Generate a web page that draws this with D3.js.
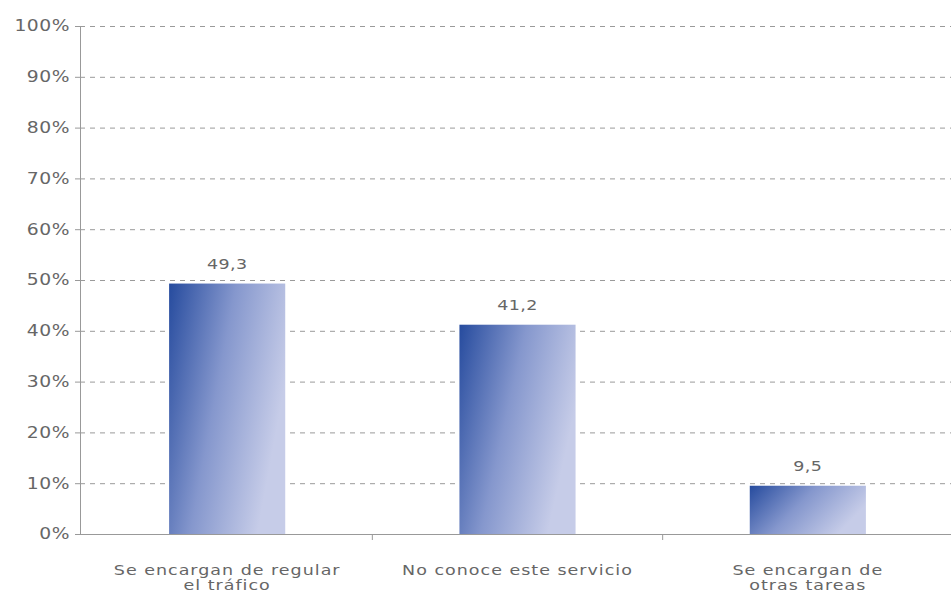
<!DOCTYPE html>
<html>
<head>
<meta charset="utf-8">
<script src="https://cdn.jsdelivr.net/npm/d3@7"></script>
<style>
  html, body { margin: 0; padding: 0; background: #fff; }
  svg { display: block; }
  text { font-family: "DejaVu Sans", Verdana, sans-serif; fill: #666; }
</style>
</head>
<body>
<svg id="chart" width="951" height="595"></svg>
<script>
// Survey answers and their shares (%)
const categories = [
  ["Se encargan de regular", "el tráfico"],
  ["No conoce este servicio"],
  ["Se encargan de", "otras tareas"]
];
const values = [49.3, 41.2, 9.5];
const valueLabels = ["49,3", "41,2", "9,5"];
const yTicks = [0, 10, 20, 30, 40, 50, 60, 70, 80, 90, 100];

const W = 951;
const axisX = 80, plotTop = 26, plotBottom = 534;
const stretch = 1.25; // horizontal stretch for the extended lettering

const svg = d3.select("#chart");

const x = d3.scaleBand()
  .domain(d3.range(categories.length))
  .range([82, 953])
  .paddingInner(0.6)
  .paddingOuter(0.3);

const y = d3.scaleLinear().domain([0, 100]).range([plotBottom, plotTop]);

// Gradient for the bars: dark blue at the top-left, pale lavender to the right
const defs = svg.append("defs");
const grad = defs.append("linearGradient")
  .attr("id", "barGrad")
  .attr("x1", "0%").attr("y1", "0%")
  .attr("x2", "100%").attr("y2", "40%");
grad.append("stop").attr("offset", "0%").attr("stop-color", "#264b9e");
grad.append("stop").attr("offset", "50%").attr("stop-color", "#8597cd");
grad.append("stop").attr("offset", "100%").attr("stop-color", "#c6cce8");

// Dashed horizontal gridlines
svg.append("g")
  .selectAll("line")
  .data(yTicks.filter(d => d > 0))
  .join("line")
  .attr("x1", axisX).attr("x2", W)
  .attr("y1", d => y(d) + 0.5).attr("y2", d => y(d) + 0.5)
  .attr("stroke", "#9a9a9a")
  .attr("stroke-width", 1)
  .attr("stroke-dasharray", "5,5");

// Y axis
const yAxis = svg.append("g")
  .attr("transform", `translate(${axisX},0)`)
  .call(d3.axisLeft(y).tickValues(yTicks).tickFormat(d => d + "%").tickSize(5).tickPadding(6));
yAxis.select(".domain").attr("stroke", "#999");
yAxis.selectAll(".tick line").attr("stroke", "#999");
yAxis.selectAll(".tick text")
  .attr("x", -10 / stretch)
  .attr("transform", `scale(${stretch},1)`)
  .attr("font-size", 15)
  .attr("letter-spacing", 0.4)
  .attr("fill", "#666")
  .style("font-family", "\"DejaVu Sans\", Verdana, sans-serif");

// Bars
svg.append("g")
  .selectAll("rect")
  .data(values)
  .join("rect")
  .attr("x", (d, i) => x(i))
  .attr("width", x.bandwidth())
  .attr("y", d => y(d))
  .attr("height", d => y(0) - y(d))
  .attr("fill", "url(#barGrad)");

// X axis line with separators between categories
svg.append("line")
  .attr("x1", axisX).attr("x2", W)
  .attr("y1", plotBottom + 0.5).attr("y2", plotBottom + 0.5)
  .attr("stroke", "#999");
const step = x.step();
svg.append("g")
  .selectAll("line")
  .data(d3.range(1, categories.length))
  .join("line")
  .attr("x1", i => x(i) - step * x.paddingInner() / 2)
  .attr("x2", i => x(i) - step * x.paddingInner() / 2)
  .attr("y1", plotBottom).attr("y2", plotBottom + 6)
  .attr("stroke", "#999");

// Value labels
svg.append("g")
  .selectAll("text")
  .data(values)
  .join("text")
  .attr("transform", (d, i) => `translate(${x(i) + x.bandwidth() / 2},${y(d) - 15}) scale(${stretch},1)`)
  .attr("text-anchor", "middle")
  .attr("font-size", 14)
  .attr("letter-spacing", 0.3)
  .text((d, i) => valueLabels[i]);

// Category labels
const cat = svg.append("g")
  .selectAll("text")
  .data(categories)
  .join("text")
  .attr("transform", (d, i) => `translate(${x(i) + x.bandwidth() / 2},575) scale(${stretch},1)`)
  .attr("text-anchor", "middle")
  .attr("font-size", 14)
  .attr("letter-spacing", 0.8);
cat.selectAll("tspan")
  .data(d => d)
  .join("tspan")
  .attr("x", 0)
  .attr("dy", (d, i) => i === 0 ? 0 : 15)
  .text(d => d);
</script>
</body>
</html>
